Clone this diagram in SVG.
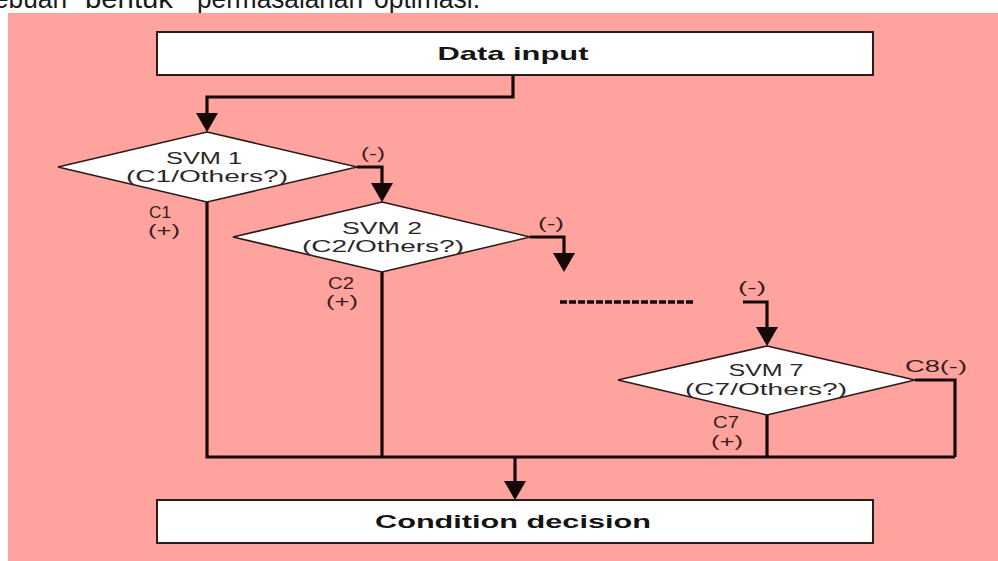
<svg xmlns="http://www.w3.org/2000/svg" width="998" height="561" viewBox="0 0 998 561">
<defs>
<style>
.bg{fill:#fea39e}
.box{fill:#ffffff;stroke:#2a1a1a;stroke-width:2}
.dia{fill:#ffffff;stroke:#2a1a1a;stroke-width:1.6}
.ln{fill:none;stroke:#140808;stroke-width:3.2}
.bt{font-family:"Liberation Sans",Arial,sans-serif;font-weight:bold;font-size:19px;fill:#141414;text-anchor:middle}
.dt{font-family:"Liberation Sans",Arial,sans-serif;font-size:16px;fill:#2e2626;text-anchor:middle}
.lb{font-family:"Liberation Sans",Arial,sans-serif;font-size:16px;fill:#3a1c1c;text-anchor:middle}
.top{font-family:"Liberation Sans",Arial,sans-serif;font-size:28px;fill:#1a1a1a}
</style>
<marker id="ah" markerUnits="userSpaceOnUse" markerWidth="20" markerHeight="22" refX="0" refY="11" orient="auto">
<path d="M0,0 L19,11 L0,22 Z" fill="#140808"/>
</marker>
</defs>
<rect x="0" y="0" width="998" height="561" fill="#ffffff"/>
<text class="top" y="8"><tspan x="-6" textLength="73" lengthAdjust="spacingAndGlyphs">ebuah</tspan><tspan x="85" textLength="88" lengthAdjust="spacingAndGlyphs">bentuk</tspan><tspan x="197" textLength="166" lengthAdjust="spacingAndGlyphs">permasalahan</tspan><tspan x="374" textLength="106" lengthAdjust="spacingAndGlyphs">optimasi.</tspan></text>
<rect class="bg" x="8" y="13" width="990" height="548"/>

<g id="connectors">
<path class="ln" d="M513,76 V97 H207 V113" marker-end="url(#ah)"/>
<path class="ln" d="M357,167 H382 V183" marker-end="url(#ah)"/>
<path class="ln" d="M530,237 H564 V253" marker-end="url(#ah)"/>
<path class="ln" d="M743,302 H767 V327" marker-end="url(#ah)"/>
<path class="ln" d="M915,380 H955 V457"/>
<path class="ln" d="M207,202 V457 H955"/>
<path class="ln" d="M382,272 V457"/>
<path class="ln" d="M767,415 V457"/>
<path class="ln" d="M515,457 V481" marker-end="url(#ah)"/>
<path d="M560,302 H693" fill="none" stroke="#140808" stroke-width="3.5" stroke-dasharray="7,2"/>
<text class="lb" x="373" y="159" textLength="24" lengthAdjust="spacingAndGlyphs">(-)</text>
<text class="lb" x="551" y="229" textLength="26" lengthAdjust="spacingAndGlyphs">(-)</text>
<text class="lb" x="752" y="293" textLength="28" lengthAdjust="spacingAndGlyphs">(-)</text>
<text class="lb" x="936" y="372" textLength="62" lengthAdjust="spacingAndGlyphs">C8(-)</text>
<text class="lb" x="160" y="218" textLength="22" lengthAdjust="spacingAndGlyphs">C1</text>
<text class="lb" x="164" y="236" textLength="32" lengthAdjust="spacingAndGlyphs">(+)</text>
<text class="lb" x="341" y="289" textLength="26" lengthAdjust="spacingAndGlyphs">C2</text>
<text class="lb" x="342" y="307" textLength="32" lengthAdjust="spacingAndGlyphs">(+)</text>
<text class="lb" x="726" y="428" textLength="26" lengthAdjust="spacingAndGlyphs">C7</text>
<text class="lb" x="727" y="447" textLength="32" lengthAdjust="spacingAndGlyphs">(+)</text>
</g>

<g id="data-input">
<rect class="box" x="157" y="32" width="716" height="43"/>
<text class="bt" x="513" y="60" textLength="151" lengthAdjust="spacingAndGlyphs">Data input</text>
</g>

<g id="svm1">
<polygon class="dia" points="207,132 357,167 207,202 58,167"/>
<text class="dt" x="204" y="164" textLength="76" lengthAdjust="spacingAndGlyphs">SVM 1</text>
<text class="dt" x="207" y="182" textLength="162" lengthAdjust="spacingAndGlyphs">(C1/Others?)</text>
</g>

<g id="svm2">
<polygon class="dia" points="382,202 530,237 382,272 233,237"/>
<text class="dt" x="382" y="234" textLength="80" lengthAdjust="spacingAndGlyphs">SVM 2</text>
<text class="dt" x="383" y="252" textLength="162" lengthAdjust="spacingAndGlyphs">(C2/Others?)</text>
</g>

<g id="svm7">
<polygon class="dia" points="767,346 915,380 767,415 618,380"/>
<text class="dt" x="766" y="376" textLength="75" lengthAdjust="spacingAndGlyphs">SVM 7</text>
<text class="dt" x="766" y="395" textLength="162" lengthAdjust="spacingAndGlyphs">(C7/Others?)</text>
</g>

<g id="condition-decision">
<rect class="box" x="157" y="500" width="716" height="43"/>
<text class="bt" x="513" y="528" font-size="20" textLength="276" lengthAdjust="spacingAndGlyphs">Condition decision</text>
</g>
</svg>
